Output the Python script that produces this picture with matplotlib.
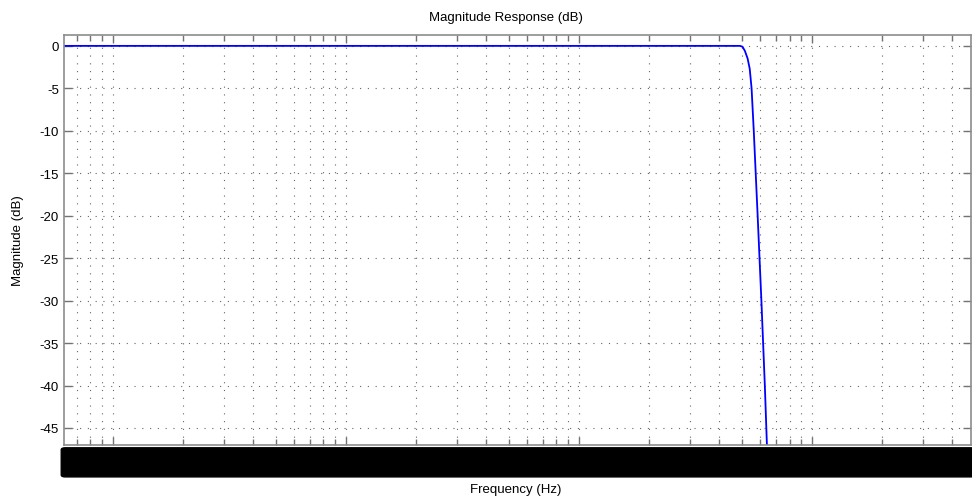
import matplotlib
matplotlib.use("Agg")
import matplotlib.pyplot as plt
from matplotlib.patches import FancyBboxPatch
from matplotlib.ticker import LogLocator, NullFormatter

# magnitude response (Hz, dB)
freq_hz = [6.16, 10, 100, 1000, 4000, 4800, 4900, 5030, 5150, 5290, 5400,
           5500, 5620, 5840, 6060, 6270, 6400, 6520]
mag_db = [0, 0, 0, 0, 0, 0, 0, -0.1, -0.6, -1.5, -2.7,
          -5, -10, -20, -30, -40, -47, -55]
y_ticks = [0, -5, -10, -15, -20, -25, -30, -35, -40, -45]

plt.rcParams['font.family'] = ['Liberation Sans', 'DejaVu Sans']

fig = plt.figure(figsize=(9.72, 5.02), dpi=100)
ax = fig.add_axes([0.0658, 0.1116, 0.933, 0.817])

ax.semilogx(freq_hz, mag_db, color=(0, 0, 1), linewidth=1.3)
ax.set_xlim(6.16, 48000)
ax.set_ylim(-47.0, 1.3)

ax.set_yticks(y_ticks)
ax.set_yticklabels([str(v) for v in y_ticks], fontsize=9.5)
ax.xaxis.set_major_locator(LogLocator(base=10))
ax.xaxis.set_minor_locator(LogLocator(base=10, subs=range(2, 10)))
ax.xaxis.set_major_formatter(NullFormatter())
ax.xaxis.set_minor_formatter(NullFormatter())

ax.tick_params(which='both', direction='in', top=True, right=True,
               color='0.45', width=1)
ax.tick_params(which='major', length=6)
ax.tick_params(which='minor', length=4)
for s in ax.spines.values():
    s.set_color('0.55')
    s.set_linewidth(1.2)

ax.grid(True, which='both', color='0.4', linewidth=0.8,
        linestyle=(0, (1, 6)))

fig.text(0.52, 0.964, "Magnitude Response (dB)", ha='center', va='center', fontsize=9.5)
fig.text(0.531, 0.024, "Frequency (Hz)", ha='center', va='center', fontsize=9.5)
fig.text(0.019, 0.52, "Magnitude (dB)", ha='center', va='center', rotation=90, fontsize=9.5)

# black bar over the x tick labels
bar = FancyBboxPatch((0.063, 0.048), 0.94, 0.058,
                     boxstyle="round,pad=0,rounding_size=0.004",
                     transform=fig.transFigure, facecolor='black',
                     edgecolor='black', zorder=10)
fig.patches.append(bar)

fig.savefig("out.png", dpi=100, facecolor='white')
